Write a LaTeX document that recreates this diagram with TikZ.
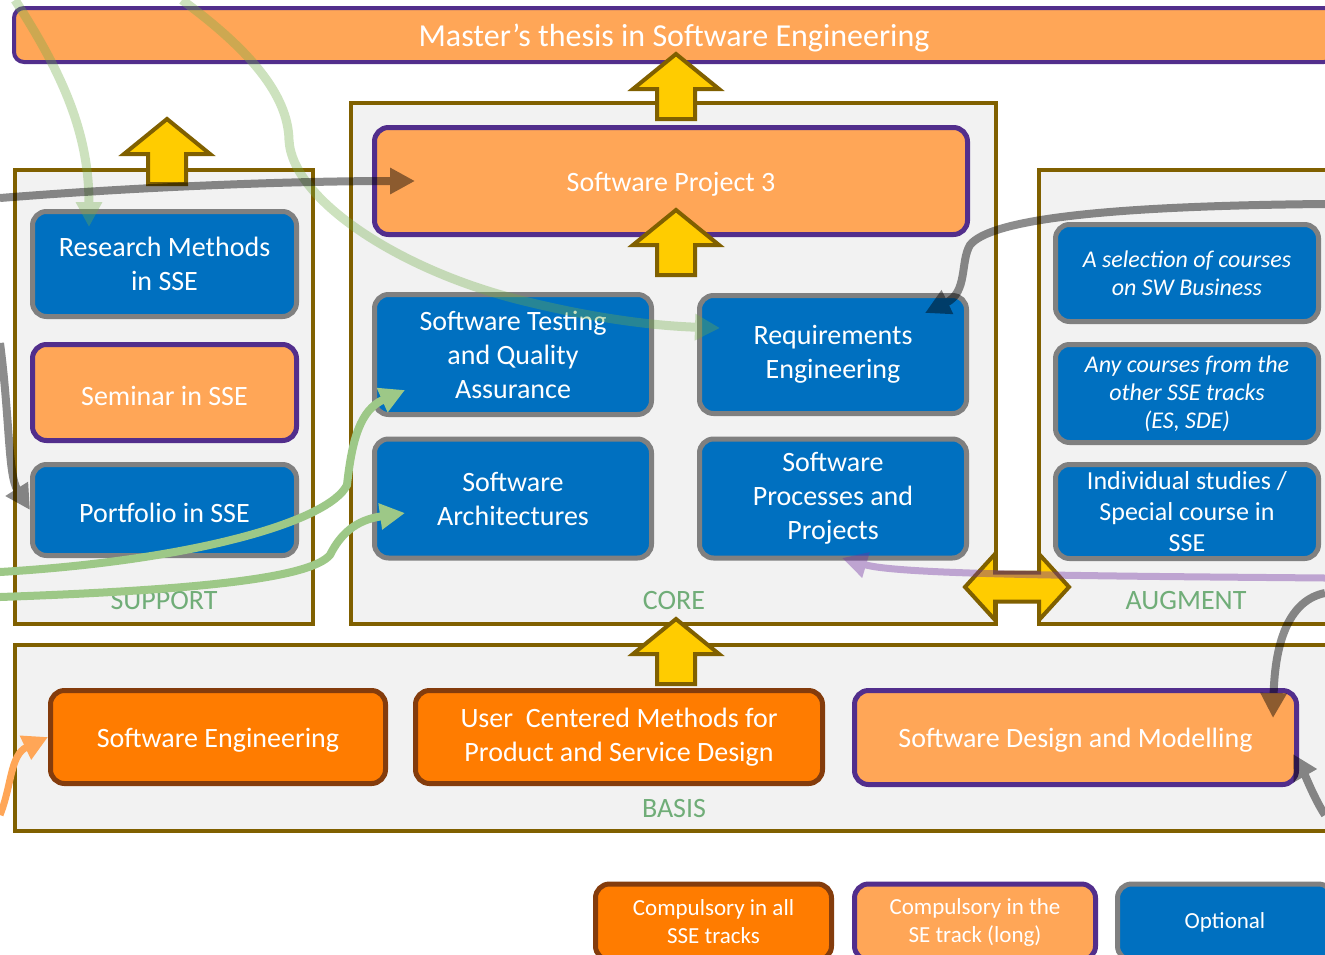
\documentclass[tikz,border=0pt]{standalone}
\usepackage{fontspec}
\setmainfont{Carlito}
\usetikzlibrary{arrows.meta}
\definecolor{cOrangeL}{RGB}{255,166,87}
\definecolor{cOrangeD}{RGB}{255,124,0}
\definecolor{cBrown}{RGB}{132,60,12}
\definecolor{cPurple}{RGB}{82,46,140}
\definecolor{cBlue}{RGB}{0,112,192}
\definecolor{cGreyB}{RGB}{128,128,128}
\definecolor{cOlive}{RGB}{128,96,0}
\definecolor{cBg}{RGB}{242,242,242}
\definecolor{cGold}{RGB}{255,204,0}
\definecolor{cLabel}{RGB}{112,173,120}
\definecolor{cPaleG}{RGB}{112,173,71}
\definecolor{cBrightG}{RGB}{157,200,135}
\definecolor{cLilac}{RGB}{112,48,160}
\newcommand\fmain{\fontsize{28}{34}\selectfont}
\newcommand\ftitle{\fontsize{32}{38}\selectfont}
\newcommand\faug{\fontsize{24}{28}\selectfont}
\newcommand\faugb{\fontsize{26}{31}\selectfont}
\newcommand\flegend{\fontsize{23}{28}\selectfont}
\newcommand\lowtxt[1]{\raisebox{-3pt}[\height][\depth]{#1}}
\begin{document}
\begin{tikzpicture}[x=1pt,y=-1pt,
  container/.style={draw=cOlive, fill=cBg, line width=4pt, inner sep=0pt},
  crs/.style={rounded corners=14pt, line width=5pt, text=white, align=center, inner sep=2pt, font=\fmain},
  cblue/.style={crs, fill=cBlue, draw=cGreyB},
  cdark/.style={crs, fill=cOrangeD, draw=cBrown},
  clight/.style={crs, fill=cOrangeL, draw=cPurple},
  lvl/.style={text=cLabel, font=\fmain, anchor=base},
  blockarr/.style={fill=cGold, draw=cOlive, line width=4pt, line join=miter},
  tip/.style={-{Triangle[length=25pt,width=25pt]}},
  gconn/.style={draw=black, line width=8pt, tip},
  pgconn/.style={draw=cPaleG, line width=9pt, tip},
  bgconn/.style={draw=cBrightG, line width=8pt, tip},
  blockup/.pic={\path[blockarr] (0,0) -- (43,35) -- (19,35) -- (19,65) -- (-19,65) -- (-19,35) -- (-43,35) -- cycle;}
]
\useasboundingbox (0,0) rectangle (1325,954);
\clip (0,0) rectangle (1325,954);
\fill[white] (0,0) rectangle (1325,954);

% title bar
\node[clight, rounded corners=10pt, line width=4pt, minimum width=1320pt, minimum height=54pt, font=\ftitle] (title) at (674,35) {\lowtxt{Master’s thesis in Software Engineering}};

% containers
\node[container, minimum width=298pt, minimum height=454pt] (support) at (164,397) {};
\node[container, minimum width=645pt, minimum height=521pt] (core) at (673.5,363.5) {};
\node[container, minimum width=306pt, minimum height=454pt] (augment) at (1192,397) {};
\node[container, minimum width=1330pt, minimum height=186pt] (basis) at (680,738) {};

% level labels
\node[lvl] (lsupport) at (164,609) {SUPPORT};
\node[lvl] (lcore) at (674,609) {CORE};
\node[lvl] (laugment) at (1186,609) {AUGMENT};
\node[lvl] (lbasis) at (674,817) {BASIS};

% support
\node[cblue, minimum width=264pt, minimum height=105pt] (rm) at (164.5,264) {Research Methods\\in SSE};
\node[clight, minimum width=264pt, minimum height=96pt] (sem) at (164.5,392.5) {\lowtxt{Seminar in SSE}};
\node[cblue, minimum width=264pt, minimum height=91pt] (port) at (164.5,510) {\lowtxt{Portfolio in SSE}};

% core
\node[clight, minimum width=593pt, minimum height=107pt] (sp3) at (671,181) {\lowtxt{Software Project 3}};
\node[cblue, minimum width=277pt, minimum height=120pt] (stqa) at (513,354.5) {Software Testing\\and Quality\\Assurance};
\node[cblue, minimum width=267pt, minimum height=118pt] (re) at (833,354.5) {Requirements\\Engineering};
\node[cblue, minimum width=277pt, minimum height=119pt] (sa) at (513,498.5) {Software\\Architectures};
\node[cblue, minimum width=267pt, minimum height=119pt] (spp) at (833,498.5) {Software\\Processes and\\Projects};

% augment
\node[cblue, minimum width=263pt, minimum height=97pt, font=\faug\itshape] (aug1) at (1187,273) {A selection of courses\\on SW Business};
\node[cblue, minimum width=263pt, minimum height=98pt, font=\faug\itshape] (aug2) at (1187,393.5) {Any courses from the\\other SSE tracks\\(ES, SDE)};
\node[cblue, minimum width=263pt, minimum height=94pt, font=\faugb] (aug3) at (1187,511.5) {Individual studies /\\Special course in\\SSE};

% basis
\node[cdark, minimum width=335pt, minimum height=93pt] (se) at (218,737) {\lowtxt{Software Engineering}};
\node[cdark, minimum width=407pt, minimum height=93pt] (ucm) at (619,737) {User~ Centered Methods for\\Product and Service Design};
\node[clight, minimum width=442pt, minimum height=94pt] (sdm) at (1075.5,737.5) {\lowtxt{Software Design and Modelling}};

% legend
\node[cdark, minimum width=236pt, minimum height=76pt, font=\flegend] (leg1) at (713.5,922) {Compulsory in all\\SSE tracks};
\node[clight, minimum width=241pt, minimum height=76pt, font=\flegend] (leg2) at (975,922) {Compulsory in the\\SE track (long)};
\node[cblue, minimum width=215pt, minimum height=76pt, font=\flegend] (leg3) at (1225,922) {Optional};

% block arrows
\pic (arrtop) at (676,54) {blockup};
\pic (arrsp) at (676,210) {blockup};
\pic (arrsup) at (167,119) {blockup};
\pic (arrbasis) at (676,619) {blockup};
\path[blockarr] (965,587) -- (995,554) -- (995,572.5) -- (1039,572.5) -- (1039,554) -- (1069,587) -- (1039,620) -- (1039,601.5) -- (995,601.5) -- (995,620) -- cycle;

% connector end points
\coordinate (g1s) at (0,198);
\coordinate (g1e) at (415,181);
\coordinate (p1s) at (15,0);
\coordinate (p1e) at (89,227);
\coordinate (p2s) at (182,0);
\coordinate (p2e) at (720,328);
\coordinate (g2s) at (1325,204);
\coordinate (g2e) at (925,313);
\coordinate (g3s) at (0,343);
\coordinate (g3e) at (30,510);
\coordinate (b1s) at (0,572);
\coordinate (b1e) at (405,390);
\coordinate (b2s) at (0,597);
\coordinate (b2e) at (405,513);
\coordinate (l1s) at (1325,578);
\coordinate (l1e) at (842,558);
\coordinate (g4s) at (1325,593);
\coordinate (g4e) at (1273,718);
\coordinate (g5s) at (1325,815);
\coordinate (g5e) at (1293,754);
\coordinate (o1s) at (0,815);
\coordinate (o1e) at (48,737);

% connectors
\begin{scope}[transparency group, opacity=0.35]
\draw[pgconn] (p1s) .. controls (60,70) and (89,130) .. (p1e);
\end{scope}
\begin{scope}[transparency group, opacity=0.35]
\draw[pgconn] (p2s) .. controls (250,50) and (288,95) .. (289,140) .. controls (292,200) and (400,270) .. (520,300) .. controls (600,320) and (660,326) .. (p2e);
\end{scope}
\begin{scope}[transparency group, opacity=0.45]
\draw[gconn] (g1s) .. controls (150,186) and (300,181) .. (g1e);
\end{scope}
\begin{scope}[transparency group, opacity=0.45]
\draw[gconn] (g2s) .. controls (1100,206) and (990,220) .. (970,245) .. controls (960,262) and (968,292) .. (g2e);
\end{scope}
\begin{scope}[transparency group, opacity=0.45]
\draw[gconn] (g3s) .. controls (10,420) and (8,475) .. (g3e);
\end{scope}
\begin{scope}[transparency group, opacity=0.45]
\draw[gconn] (g4s) .. controls (1290,600) and (1275,640) .. (g4e);
\end{scope}
\begin{scope}[transparency group, opacity=0.45]
\draw[gconn] (g5s) .. controls (1315,800) and (1305,775) .. (g5e);
\end{scope}
\begin{scope}[transparency group, opacity=0.4]
\draw[draw=cLilac, line width=7pt, tip] (l1s) .. controls (1100,576) and (900,575) .. (l1e);
\end{scope}
\draw[bgconn] (b1s) .. controls (200,560) and (330,520) .. (347,485) .. controls (352,440) and (360,410) .. (b1e);
\draw[bgconn] (b2s) .. controls (200,590) and (310,578) .. (330,555) .. controls (340,535) and (355,520) .. (b2e);
\draw[draw=cOrangeL, line width=7pt, tip] (o1s) .. controls (12,785) and (10,755) .. (o1e);
\end{tikzpicture}
\end{document}
